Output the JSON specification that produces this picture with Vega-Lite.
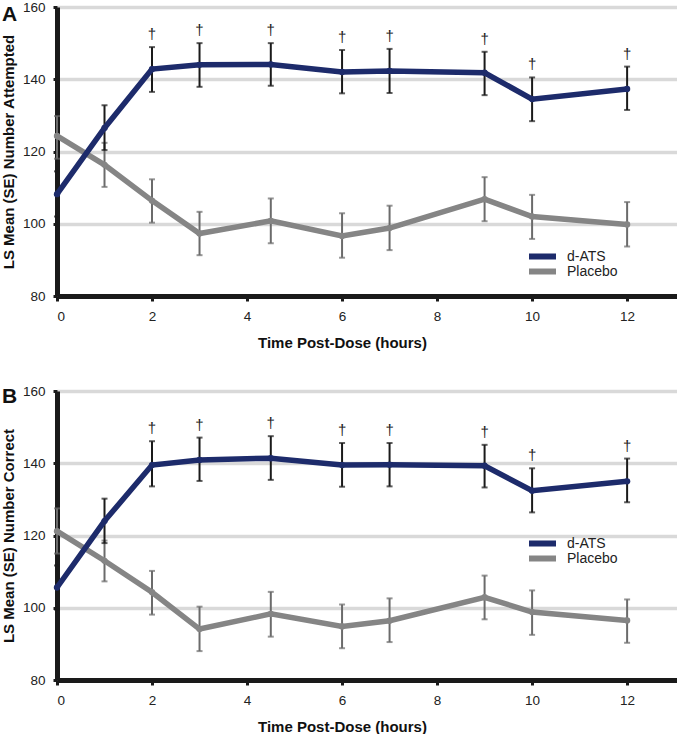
{
  "$schema": "https://vega.github.io/schema/vega-lite/v6.json",
  "padding": {"left": 1, "top": 0, "right": 0, "bottom": 0},
  "background": "white",
  "config": {
    "font": "Liberation Sans",
    "view": {"stroke": null},
    "concat": {"spacing": 33},
    "axisX": {"domainColor": "#1a1a1a", "domainWidth": 5, "tickColor": "#1a1a1a", "tickWidth": 3, "tickSize": 5, "labelFontSize": 13.5, "labelColor": "#222222", "labelPadding": 8, "titleFontSize": 15, "titleFontWeight": "bold", "titleColor": "#111111", "grid": false, "titleX": 285, "titlePadding": 13},
    "axisY": {"domainColor": "#1a1a1a", "domainWidth": 5, "tickColor": "#1a1a1a", "tickWidth": 3, "tickSize": 4, "labelFontSize": 13.5, "labelColor": "#222222", "labelPadding": 8, "titleFontSize": 15, "titleFontWeight": "bold", "titleColor": "#111111", "grid": true, "gridColor": "#d9d9d9", "gridWidth": 3.5, "titlePadding": 6},
    "legend": {"orient": "none", "title": null, "symbolType": "stroke", "symbolStrokeWidth": 6, "symbolSize": 729, "clipHeight": 15, "labelFontSize": 14, "labelColor": "#222222", "labelOffset": 8, "rowPadding": 0}
  },
  "datasets": {
    "A": [
      {"time": 0, "group": "Placebo", "mean": 124.3, "lo": 118.0, "hi": 129.8, "sig": false},
      {"time": 1, "group": "Placebo", "mean": 116.3, "lo": 110.2, "hi": 122.4, "sig": false},
      {"time": 2, "group": "Placebo", "mean": 106.4, "lo": 100.3, "hi": 112.3, "sig": false},
      {"time": 3, "group": "Placebo", "mean": 97.3, "lo": 91.3, "hi": 103.3, "sig": false},
      {"time": 4.5, "group": "Placebo", "mean": 100.8, "lo": 94.6, "hi": 107.0, "sig": false},
      {"time": 6, "group": "Placebo", "mean": 96.6, "lo": 90.6, "hi": 102.9, "sig": false},
      {"time": 7, "group": "Placebo", "mean": 98.8, "lo": 92.7, "hi": 105.0, "sig": false},
      {"time": 9, "group": "Placebo", "mean": 106.8, "lo": 100.7, "hi": 112.9, "sig": false},
      {"time": 10, "group": "Placebo", "mean": 102.0, "lo": 95.8, "hi": 108.0, "sig": false},
      {"time": 12, "group": "Placebo", "mean": 99.8, "lo": 93.7, "hi": 106.0, "sig": false},
      {"time": 0, "group": "d-ATS", "mean": 108.2, "lo": 102.0, "hi": 114.5, "sig": false},
      {"time": 1, "group": "d-ATS", "mean": 126.5, "lo": 120.4, "hi": 132.8, "sig": false},
      {"time": 2, "group": "d-ATS", "mean": 142.8, "lo": 136.5, "hi": 148.9, "sig": true},
      {"time": 3, "group": "d-ATS", "mean": 144.0, "lo": 137.9, "hi": 150.0, "sig": true},
      {"time": 4.5, "group": "d-ATS", "mean": 144.1, "lo": 138.2, "hi": 150.0, "sig": true},
      {"time": 6, "group": "d-ATS", "mean": 142.0, "lo": 136.1, "hi": 148.1, "sig": true},
      {"time": 7, "group": "d-ATS", "mean": 142.3, "lo": 136.2, "hi": 148.4, "sig": true},
      {"time": 9, "group": "d-ATS", "mean": 141.8, "lo": 135.6, "hi": 147.6, "sig": true},
      {"time": 10, "group": "d-ATS", "mean": 134.5, "lo": 128.4, "hi": 140.5, "sig": true},
      {"time": 12, "group": "d-ATS", "mean": 137.3, "lo": 131.5, "hi": 143.5, "sig": true}
    ],
    "B": [
      {"time": 0, "group": "Placebo", "mean": 121.2, "lo": 115.0, "hi": 127.5, "sig": false},
      {"time": 1, "group": "Placebo", "mean": 113.0, "lo": 107.3, "hi": 118.6, "sig": false},
      {"time": 2, "group": "Placebo", "mean": 104.3, "lo": 98.1, "hi": 110.2, "sig": false},
      {"time": 3, "group": "Placebo", "mean": 94.1, "lo": 88.0, "hi": 100.3, "sig": false},
      {"time": 4.5, "group": "Placebo", "mean": 98.3, "lo": 92.0, "hi": 104.4, "sig": false},
      {"time": 6, "group": "Placebo", "mean": 94.8, "lo": 88.8, "hi": 100.9, "sig": false},
      {"time": 7, "group": "Placebo", "mean": 96.4, "lo": 90.5, "hi": 102.6, "sig": false},
      {"time": 9, "group": "Placebo", "mean": 102.9, "lo": 96.8, "hi": 108.9, "sig": false},
      {"time": 10, "group": "Placebo", "mean": 98.8, "lo": 92.5, "hi": 104.8, "sig": false},
      {"time": 12, "group": "Placebo", "mean": 96.5, "lo": 90.3, "hi": 102.3, "sig": false},
      {"time": 0, "group": "d-ATS", "mean": 105.6, "lo": 99.5, "hi": 111.7, "sig": false},
      {"time": 1, "group": "d-ATS", "mean": 124.0, "lo": 117.9, "hi": 130.2, "sig": false},
      {"time": 2, "group": "d-ATS", "mean": 139.5, "lo": 133.6, "hi": 146.1, "sig": true},
      {"time": 3, "group": "d-ATS", "mean": 140.9, "lo": 135.1, "hi": 147.1, "sig": true},
      {"time": 4.5, "group": "d-ATS", "mean": 141.4, "lo": 135.4, "hi": 147.5, "sig": true},
      {"time": 6, "group": "d-ATS", "mean": 139.5, "lo": 133.5, "hi": 145.6, "sig": true},
      {"time": 7, "group": "d-ATS", "mean": 139.6, "lo": 133.6, "hi": 145.6, "sig": true},
      {"time": 9, "group": "d-ATS", "mean": 139.3, "lo": 133.3, "hi": 145.1, "sig": true},
      {"time": 10, "group": "d-ATS", "mean": 132.4, "lo": 126.4, "hi": 138.6, "sig": true},
      {"time": 12, "group": "d-ATS", "mean": 135.0, "lo": 129.2, "hi": 141.3, "sig": true}
    ]
  },
  "resolve": {"legend": {"color": "independent"}},
  "vconcat": [
    {
      "width": 620,
      "height": 289,
      "data": {"name": "A"},
      "title": {"text": "A", "anchor": "start", "frame": "group", "dx": -55, "offset": -42, "baseline": "alphabetic", "fontSize": 21, "fontWeight": "bold", "color": "#111111"},
      "encoding": {
        "x": {"field": "time", "type": "quantitative", "scale": {"domain": [0, 13.05], "nice": false}, "axis": {"values": [0, 2, 4, 6, 8, 10, 12], "title": "Time Post-Dose (hours)"}}
      },
      "layer": [
        {
          "transform": [{"filter": "datum.group === 'Placebo'"}],
          "mark": {"type": "errorbar", "ticks": {"size": 6, "thickness": 2, "color": "#6b6b6b"}, "thickness": 2, "color": "#6b6b6b"},
          "encoding": {"y": {"field": "lo", "type": "quantitative", "scale": {"domain": [80, 160], "nice": false, "zero": false}, "axis": {"values": [80, 100, 120, 140, 160]}, "title": "LS Mean (SE) Number Attempted"}, "y2": {"field": "hi"}}
        },
        {
          "transform": [{"filter": "datum.group === 'd-ATS'"}],
          "mark": {"type": "errorbar", "ticks": {"size": 6, "thickness": 2, "color": "#1a1a1a"}, "thickness": 2, "color": "#1a1a1a"},
          "encoding": {"y": {"field": "lo", "type": "quantitative", "scale": {"domain": [80, 160], "nice": false, "zero": false}, "axis": {"values": [80, 100, 120, 140, 160]}, "title": "LS Mean (SE) Number Attempted"}, "y2": {"field": "hi"}}
        },
        {
          "mark": {"type": "line", "strokeWidth": 5.5, "point": {"filled": true, "size": 40}},
          "encoding": {
            "y": {"field": "mean", "type": "quantitative", "scale": {"domain": [80, 160], "nice": false, "zero": false}, "axis": {"values": [80, 100, 120, 140, 160]}, "title": "LS Mean (SE) Number Attempted"},
            "color": {"field": "group", "type": "nominal", "scale": {"domain": ["d-ATS", "Placebo"], "range": ["#1d2b6b", "#858585"]}, "legend": {"legendX": 469, "legendY": 242}}
          }
        },
        {
          "transform": [{"filter": "datum.sig"}],
          "mark": {"type": "text", "baseline": "alphabetic", "dy": -8, "fontSize": 15, "color": "#222222"},
          "encoding": {"y": {"field": "hi", "type": "quantitative", "scale": {"domain": [80, 160], "nice": false, "zero": false}, "axis": {"values": [80, 100, 120, 140, 160]}, "title": "LS Mean (SE) Number Attempted"}, "text": {"value": "†"}}
        }
      ]
    },
    {
      "width": 620,
      "height": 289,
      "data": {"name": "B"},
      "title": {"text": "B", "anchor": "start", "frame": "group", "dx": -55, "offset": -40, "baseline": "alphabetic", "fontSize": 21, "fontWeight": "bold", "color": "#111111"},
      "encoding": {
        "x": {"field": "time", "type": "quantitative", "scale": {"domain": [0, 13.05], "nice": false}, "axis": {"values": [0, 2, 4, 6, 8, 10, 12], "title": "Time Post-Dose (hours)"}}
      },
      "layer": [
        {
          "transform": [{"filter": "datum.group === 'Placebo'"}],
          "mark": {"type": "errorbar", "ticks": {"size": 6, "thickness": 2, "color": "#6b6b6b"}, "thickness": 2, "color": "#6b6b6b"},
          "encoding": {"y": {"field": "lo", "type": "quantitative", "scale": {"domain": [80, 160], "nice": false, "zero": false}, "axis": {"values": [80, 100, 120, 140, 160]}, "title": "LS Mean (SE) Number Correct"}, "y2": {"field": "hi"}}
        },
        {
          "transform": [{"filter": "datum.group === 'd-ATS'"}],
          "mark": {"type": "errorbar", "ticks": {"size": 6, "thickness": 2, "color": "#1a1a1a"}, "thickness": 2, "color": "#1a1a1a"},
          "encoding": {"y": {"field": "lo", "type": "quantitative", "scale": {"domain": [80, 160], "nice": false, "zero": false}, "axis": {"values": [80, 100, 120, 140, 160]}, "title": "LS Mean (SE) Number Correct"}, "y2": {"field": "hi"}}
        },
        {
          "mark": {"type": "line", "strokeWidth": 5.5, "point": {"filled": true, "size": 40}},
          "encoding": {
            "y": {"field": "mean", "type": "quantitative", "scale": {"domain": [80, 160], "nice": false, "zero": false}, "axis": {"values": [80, 100, 120, 140, 160]}, "title": "LS Mean (SE) Number Correct"},
            "color": {"field": "group", "type": "nominal", "scale": {"domain": ["d-ATS", "Placebo"], "range": ["#1d2b6b", "#858585"]}, "legend": {"legendX": 469, "legendY": 145}}
          }
        },
        {
          "transform": [{"filter": "datum.sig"}],
          "mark": {"type": "text", "baseline": "alphabetic", "dy": -8, "fontSize": 15, "color": "#222222"},
          "encoding": {"y": {"field": "hi", "type": "quantitative", "scale": {"domain": [80, 160], "nice": false, "zero": false}, "axis": {"values": [80, 100, 120, 140, 160]}, "title": "LS Mean (SE) Number Correct"}, "text": {"value": "†"}}
        }
      ]
    }
  ]
}
